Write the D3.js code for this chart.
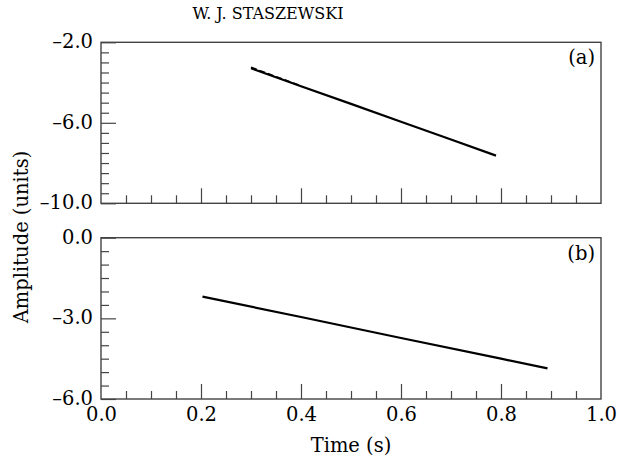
<!DOCTYPE html>
<html>
<head>
<meta charset="utf-8">
<script src="https://cdn.jsdelivr.net/npm/d3@7"></script>
<style>
html,body{margin:0;padding:0;background:#fff;}
svg{display:block;font-family:"DejaVu Serif",serif;}
</style>
</head>
<body>
<svg id="chart" width="617" height="461"></svg>
<script>
// ---- data ----
const title = "W. J. STASZEWSKI";
const xLabel = "Time (s)";
const yLabel = "Amplitude (units)";
const panelLabels = ["(a)", "(b)"];
const xDomain = [0, 1];
const xMajorTicks = [0, 0.2, 0.4, 0.6, 0.8, 1.0];
const aDomain = [-10, -2];
const aMajorTicks = [-10, -6, -2];
const bDomain = [-6, 0];
const bMajorTicks = [-6, -3, 0];
// panel (a): solid and dashed series (nearly coincident)
const aTime   = [0.30, 0.40, 0.50, 0.60, 0.70, 0.79];
const aSolid  = [-3.29, -4.18, -5.06, -5.95, -6.83, -7.63];
const aDashT  = [0.30, 0.33, 0.36, 0.40];
const aDashed = [-3.24, -3.52, -3.80, -4.16];
// panel (b)
const bTime   = [0.203, 0.40, 0.60, 0.80, 0.893];
const bValues = [-2.19, -2.95, -3.73, -4.50, -4.86];

// ---- layout ----
const svg = d3.select("#chart");
const left = 101, right = 601;
const panels = [
  {top: 42.3, bottom: 203.3, domain: aDomain, major: aMajorTicks, minorStep: 0.5, label: panelLabels[0], showX: false},
  {top: 237.7, bottom: 399, domain: bDomain, major: bMajorTicks, minorStep: 0.5, label: panelLabels[1], showX: true}
];
const x = d3.scaleLinear().domain(xDomain).range([left, right]);
const fmt = v => d3.format(".1f")(v).replace("−", "–");
const frameColor = "#444";

const xMinor = d3.range(0.05, 1.0, 0.05).map(v => +v.toFixed(2)).filter(v => Math.abs(v*5 - Math.round(v*5)) > 1e-6);

panels.forEach((p, i) => {
  const y = d3.scaleLinear().domain(p.domain).range([p.bottom, p.top]);
  p.y = y;
  const g = svg.append("g");
  const yMinor = d3.range(p.domain[0] + p.minorStep, p.domain[1], p.minorStep)
    .filter(v => !p.major.some(m => Math.abs(m - v) < 1e-6));
  g.append("g").attr("transform", `translate(${left},0)`)
    .call(d3.axisLeft(y).tickValues(yMinor).tickSize(-8).tickFormat(""))
    .call(s => s.select(".domain").remove());
  g.append("g").attr("transform", `translate(${left},0)`)
    .call(d3.axisLeft(y).tickValues(p.major).tickSize(-15).tickPadding(8).tickFormat(fmt))
    .call(s => s.select(".domain").remove())
    .call(s => s.selectAll("text").attr("font-size", 19.5).attr("font-family", "DejaVu Serif").attr("fill", "#000").attr("dy", "0.28em"));
  g.append("g").attr("transform", `translate(0,${p.bottom})`)
    .call(d3.axisBottom(x).tickValues(xMinor).tickSize(-8).tickFormat(""))
    .call(s => s.select(".domain").remove());
  g.append("g").attr("transform", `translate(0,${p.bottom})`)
    .call(d3.axisBottom(x).tickValues(xMajorTicks.filter(v => v > 0 && v < 1)).tickSize(-15).tickFormat(""))
    .call(s => s.select(".domain").remove());
  if (p.showX) {
    g.append("g").attr("transform", `translate(0,${p.bottom})`)
      .call(d3.axisBottom(x).tickValues(xMajorTicks).tickSize(0).tickPadding(8).tickFormat(fmt))
      .call(s => s.select(".domain").remove())
      .call(s => s.selectAll("text").attr("font-size", 19.5).attr("font-family", "DejaVu Serif").attr("fill", "#000"));
  }
  g.selectAll(".tick line").attr("stroke", frameColor).attr("stroke-width", 1.2);
  g.append("rect").attr("x", left).attr("y", p.top)
    .attr("width", right - left).attr("height", p.bottom - p.top)
    .attr("fill", "none").attr("stroke", frameColor).attr("stroke-width", 1.4);
  g.append("text").attr("x", right - 6).attr("y", p.top + 22)
    .attr("text-anchor", "end").attr("font-size", 19.5).text(p.label);
});

const line = (y) => d3.line().x(d => x(d[0])).y(d => y(d[1]));
const ya = panels[0].y, yb = panels[1].y;
svg.append("path").datum(d3.zip(aTime, aSolid))
  .attr("d", line(ya)).attr("fill", "none").attr("stroke", "#000").attr("stroke-width", 2.2);
svg.append("path").datum(d3.zip(aDashT, aDashed))
  .attr("d", line(ya)).attr("fill", "none").attr("stroke", "#000").attr("stroke-width", 1.6)
  .attr("stroke-dasharray", "6,3");
svg.append("path").datum(d3.zip(bTime, bValues))
  .attr("d", line(yb)).attr("fill", "none").attr("stroke", "#000").attr("stroke-width", 2.2);

svg.append("text").attr("x", 268).attr("y", 19).attr("text-anchor", "middle")
  .attr("font-size", 16).text(title);
svg.append("text").attr("x", 351).attr("y", 452).attr("text-anchor", "middle")
  .attr("font-size", 19.5).text(xLabel);
svg.append("text").attr("transform", "translate(28,237) rotate(-90)")
  .attr("text-anchor", "middle").attr("font-size", 19.5).text(yLabel);
</script>
</body>
</html>
